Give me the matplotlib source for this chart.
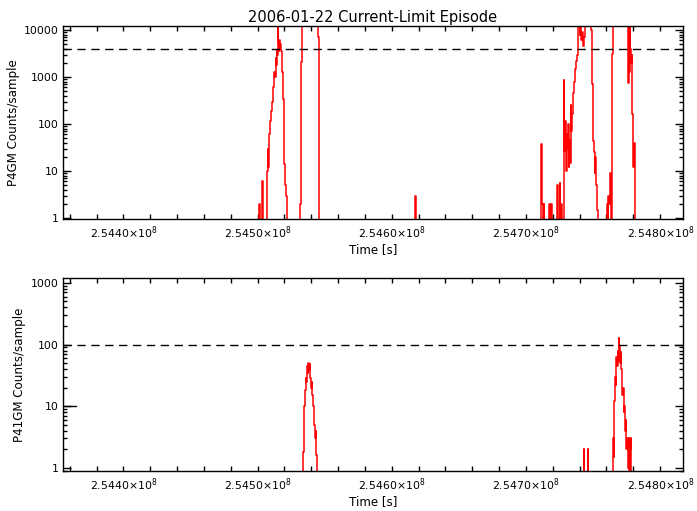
"""2006-01-22 current-limit episode: P4GM / P41GM counts per sample."""

import matplotlib

matplotlib.use("Agg")
import matplotlib.pyplot as plt
import numpy as np
from matplotlib.ticker import FixedLocator, FuncFormatter, LogLocator, NullFormatter

T0 = 254_400_000  # s; the time arrays below are ks after this
XMIN, XMAX = 2.54355e8, 2.54817e8

# P4GM counts/sample (0 = no counts, 20000 = off the top of the plot)
p4gm_ks = [-50,
           101.3, 102.1, 103.6, 104.3, 107.3, 107.7, 108.0, 108.5, 108.8, 109.5,
           110.3, 111.0, 111.8, 112.1, 112.5, 113.2, 113.6, 114.0, 114.4, 114.7,
           115.0, 115.3, 115.5, 115.8, 116.2, 116.6, 117.0, 117.7, 118.5, 119.2,
           119.9, 120.7, 121.2, 122.0, 131.9, 132.6, 133.4, 145.1, 145.5,
           217.5, 218.3,
           311.2, 311.6, 312.5, 313.1, 313.6, 317.4, 318.1, 318.9, 319.6, 323.1,
           323.7, 325.0, 325.6, 326.3, 327.1, 328.0, 328.6, 329.3, 329.8, 330.3,
           330.8, 331.3, 331.7, 332.3, 332.8, 333.2, 333.8, 334.5, 335.3, 336.0,
           336.7, 337.5, 338.0, 338.4, 339.9, 340.5, 341.3, 342.0, 342.7, 343.5,
           344.2, 348.7, 349.1, 349.5, 349.9, 350.3, 350.8, 351.2, 351.8, 352.3,
           352.8, 353.4, 360.4, 360.8, 361.3, 361.8, 362.3, 362.8, 363.3, 364.1,
           364.5, 376.0, 376.4, 377.0, 377.3, 377.7, 378.2, 378.7, 379.0, 379.4,
           379.9, 380.3, 380.9, 381.4,
           470]
p4gm_counts = [0,
               2, 0, 6, 0, 10, 30, 12, 25, 60, 115,
               190, 300, 600, 900, 1300, 1000, 2500, 1800, 3800, 3000,
               20000, 4000, 5500, 3500, 6000, 4000, 5000, 3500, 1300, 335,
               14, 5, 3, 0, 2, 2100, 20000, 7000, 0,
               3, 0,
               38, 2, 0, 2, 0, 2, 0, 2, 0, 5,
               0, 5.5, 0, 2, 0, 880, 27, 115, 10, 60,
               30, 100, 12, 45, 15, 260, 70, 160, 450, 800,
               1500, 2200, 3000, 20000, 8000, 20000, 6000, 9000, 4500, 7000,
               20000, 10000, 1300, 700, 220, 44, 25, 9, 20, 5,
               1.5, 0, 2, 0, 3, 2, 4, 9, 0, 3100,
               20000, 730, 20000, 1300, 20000, 4000, 2000, 3000, 160, 30,
               12, 40, 3, 0,
               0]

# P41GM counts/sample
p41gm_ks = [-50,
            133.9, 134.3, 134.8, 135.4, 135.8, 136.3, 136.9, 137.3, 137.8, 138.3,
            138.8, 139.3, 139.8, 140.2, 140.8, 141.3, 141.8, 142.3, 142.8, 143.3,
            143.8, 144.3,
            342.9, 343.3, 345.9, 346.3,
            364.8, 365.3, 365.8, 366.3, 366.8, 367.3, 367.8, 368.3, 368.8, 369.1,
            369.5, 370.0, 370.5, 371.0, 371.5, 371.9, 372.4, 372.9, 373.4, 373.9,
            374.4, 374.9, 375.5, 376.0, 376.4, 377.0, 377.5, 377.9, 378.5,
            470]
p41gm_counts = [0,
                1.8, 5, 10, 18, 29, 25, 45, 35, 50, 38,
                48, 29, 20, 25, 15, 10, 8, 5, 3, 4,
                1.6, 0,
                2, 0, 2, 0,
                3, 1.5, 12, 30, 22, 63, 45, 80, 55, 130,
                90, 50, 75, 40, 30, 15, 20, 8, 10, 4,
                6, 2, 3, 1, 3, 0, 2, 3, 0,
                0]

panels = [
    ("P4GM Counts/sample", p4gm_ks, p4gm_counts, 4000, (0.95, 12200), [1, 10, 100, 1000, 10000]),
    ("P41GM Counts/sample", p41gm_ks, p41gm_counts, 100, (0.89, 1200), [1, 10, 100, 1000]),
]
major_ticks = [2.5440e8, 2.5450e8, 2.5460e8, 2.5470e8, 2.5480e8]

plt.rcParams["font.family"] = "DejaVu Sans"
plt.rcParams["font.size"] = 7.8
plt.rcParams["mathtext.fontset"] = "dejavusans"

fig = plt.figure(figsize=(6.97, 5.11), dpi=100)
boxes = [[0.0904, 0.5714, 0.8895, 0.3777], [0.0904, 0.0783, 0.8895, 0.3777]]
label_x = [-0.069, -0.060]


def _xfmt(value, _pos):
    return f"{value / 1e8:.4f}" + r"$\times$10$^{8}$"


for i, (ylabel, ks, counts, limit, ylim, yticks) in enumerate(panels):
    ax = fig.add_axes(boxes[i])
    t = T0 + np.array(ks) * 1000.0
    y = np.where(np.array(counts) > 0, counts, 1e-3)
    ax.step(t, y, where="post", color="red", lw=1.1)
    ax.axhline(limit, color="black", lw=1.0, ls=(0, (6, 4)))

    ax.set_yscale("log")
    ax.set_ylim(*ylim)
    ax.set_xlim(XMIN, XMAX)
    ax.yaxis.set_major_locator(FixedLocator(yticks))
    ax.yaxis.set_major_formatter(FuncFormatter(lambda v, p: f"{v:g}"))
    ax.yaxis.set_minor_locator(LogLocator(base=10, subs=np.arange(2, 10)))
    ax.yaxis.set_minor_formatter(NullFormatter())
    ax.xaxis.set_major_locator(FixedLocator(major_ticks))
    ax.xaxis.set_minor_locator(FixedLocator(np.arange(2.5436e8, 2.5482e8, 2e4)))
    ax.xaxis.set_major_formatter(FuncFormatter(_xfmt))

    ax.tick_params(which="both", direction="in", top=True, right=True, width=1.0, colors="black")
    ax.tick_params(axis="y", which="major", length=6, pad=3)
    ax.tick_params(axis="y", which="minor", length=3)
    ax.tick_params(axis="x", which="both", length=3.5, pad=4)
    for side in ax.spines.values():
        side.set_linewidth(1.0)
    if i == 1:
        # the 10 tick on the lower panel is drawn long in the original
        ax.axhline(10, xmin=0, xmax=0.021, color="black", lw=1.0)

    ax.set_ylabel(ylabel, fontsize=8.6)
    ax.yaxis.set_label_coords(label_x[i], 0.5)
    ax.set_xlabel("Time [s]", fontsize=8.6, labelpad=1)
    if i == 0:
        ax.set_title("2006-01-22 Current-Limit Episode", fontsize=10.5, pad=3)

fig.savefig("out.png", dpi=100)
